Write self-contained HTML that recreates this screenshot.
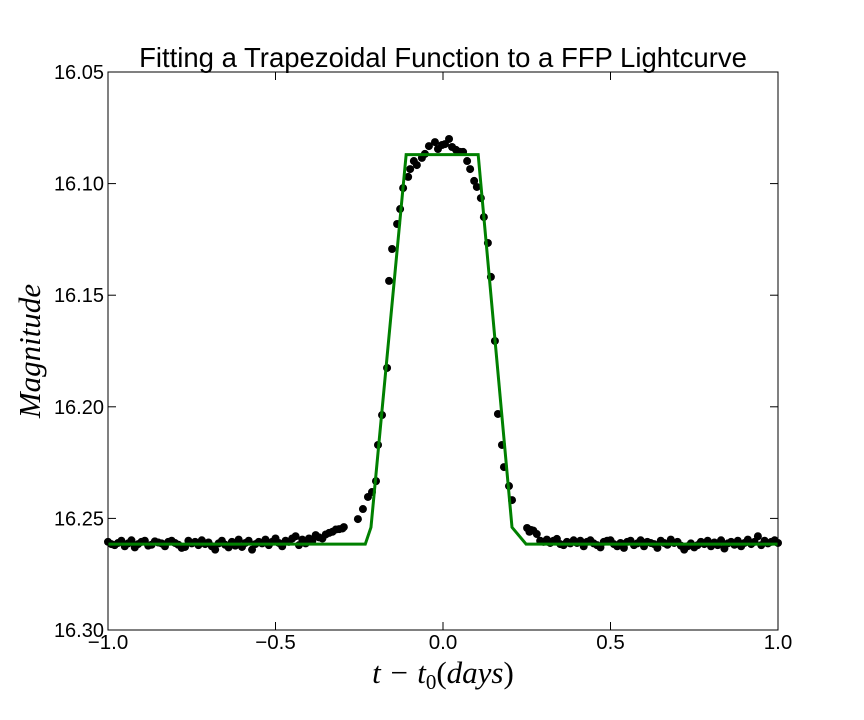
<!DOCTYPE html>
<html><head><meta charset="utf-8"><style>
body{margin:0;background:#fff;}
svg{display:block;font-family:"Liberation Sans",sans-serif;}
</style></head><body>
<svg id="chart" width="864" height="720">
<rect x="0" y="0" width="864" height="720" fill="#fff"/>
<text x="443" y="67" text-anchor="middle" font-size="27.5">Fitting a Trapezoidal Function to a FFP Lightcurve</text>
<g id="plot"></g>
<rect x="108" y="72" width="670" height="558" fill="none" stroke="#000" stroke-width="1"/>
<g id="ticks"></g>
<text x="443" y="683" text-anchor="middle" font-size="31" font-family="'Liberation Serif',serif" font-style="italic">t − t<tspan font-size="21" dy="6" font-style="normal">0</tspan><tspan dy="-6" font-style="normal">(</tspan>days<tspan font-style="normal">)</tspan></text>
<text transform="translate(40,351) rotate(-90)" text-anchor="middle" font-size="31" font-family="'Liberation Serif',serif" font-style="italic">Magnitude</text>
</svg>
<script>
const xTicks=[-1.0,-0.5,0.0,0.5,1.0];
const xTickLabels=["−1.0","−0.5","0.0","0.5","1.0"];
const yTicks=[16.05,16.10,16.15,16.20,16.25,16.30];
const yTickLabels=["16.05","16.10","16.15","16.20","16.25","16.30"];
const leftBase=[16.2605,16.2615,16.2620,16.2610,16.2600,16.2625,16.2612,16.2598,16.2630,16.2615,
16.2605,16.2600,16.2622,16.2618,16.2603,16.2608,16.2612,16.2625,16.2605,16.2600,
16.2610,16.2618,16.2632,16.2628,16.2600,16.2612,16.2605,16.2620,16.2598,16.2615,
16.2608,16.2625,16.2640,16.2612,16.2600,16.2618,16.2630,16.2605,16.2622,16.2595,
16.2628,16.2610,16.2600,16.2640,16.2615,16.2605,16.2612,16.2595,16.2620,16.2605,
16.2590,16.2610,16.2625,16.2600,16.2605,16.2590,16.2580,16.2620,16.2595,16.2612,
16.2590,16.2600,16.2575,16.2585,16.2590,16.2572,16.2565,16.2560,16.2550,16.2548,16.2545];
const peakX=[-0.296,-0.254,-0.239,-0.224,-0.212,-0.2,-0.194,-0.182,-0.167,-0.161,-0.152,-0.137,-0.128,-0.119,-0.104,-0.098,-0.087,-0.078,-0.063,-0.054,-0.042,-0.024,-0.015,-0.003,0.006,0.018,0.027,0.039,0.051,0.06,0.072,0.081,0.093,0.101,0.113,0.122,0.134,0.143,0.155,0.164,0.176,0.182,0.197,0.206,0.251,0.258,0.263];
const peakY=[16.2539,16.2503,16.2458,16.2404,16.2382,16.2333,16.2171,16.2037,16.1826,16.1436,16.1293,16.1181,16.1114,16.102,16.097,16.0935,16.0899,16.0917,16.0885,16.0867,16.0832,16.0814,16.0845,16.0827,16.0823,16.0800,16.0836,16.0849,16.0858,16.0858,16.0899,16.0935,16.0988,16.1015,16.1065,16.1150,16.1266,16.1418,16.1705,16.2032,16.2171,16.2270,16.2355,16.2418,16.2543,16.2560,16.2552];
const rightBase=[16.2555,16.2570,16.2600,16.2605,16.2595,16.2610,16.2600,16.2592,16.2615,16.2620,
16.2605,16.2612,16.2598,16.2610,16.2600,16.2625,16.2605,16.2598,16.2612,16.2620,
16.2630,16.2605,16.2600,16.2598,16.2615,16.2625,16.2610,16.2632,16.2605,16.2600,
16.2620,16.2612,16.2598,16.2625,16.2605,16.2610,16.2615,16.2632,16.2600,16.2610,
16.2618,16.2595,16.2610,16.2605,16.2622,16.2640,16.2625,16.2612,16.2630,16.2620,
16.2605,16.2615,16.2600,16.2625,16.2608,16.2620,16.2598,16.2635,16.2612,16.2605,
16.2618,16.2600,16.2625,16.2610,16.2595,16.2615,16.2605,16.2580,16.2620,16.2600,
16.2612,16.2605,16.2598,16.2610];
const modelX=[-1.0,-0.232,-0.215,-0.11,0.105,0.206,0.248,1.0];
const modelY=[16.2615,16.2615,16.2540,16.0870,16.0870,16.2540,16.2615,16.2615];

const NS="http://www.w3.org/2000/svg";
const X0=108,X1=778,Y0=72,Y1=630;
const sx=v=>X0+(v+1)/2*(X1-X0);
const sy=v=>Y0+(v-16.05)/0.25*(Y1-Y0);
const plot=document.getElementById('plot'),ticks=document.getElementById('ticks');
function mk(t,a,p){const e=document.createElementNS(NS,t);for(const k in a)e.setAttribute(k,a[k]);p.appendChild(e);return e;}
const xs=[],ys=[];
leftBase.forEach((v,i)=>{xs.push(-1+i*0.01);ys.push(v);});
peakX.forEach((v,i)=>{xs.push(v);ys.push(peakY[i]);});
rightBase.forEach((v,i)=>{xs.push(0.27+i*0.01);ys.push(v);});
xs.forEach((x,i)=>{
 const c=mk('circle',{cx:sx(x),cy:sy(ys[i]),r:4,fill:'#000'},plot);
 
 
});
const pl=mk('polyline',{points:modelX.map((x,i)=>sx(x)+','+sy(modelY[i])).join(' '),fill:'none',stroke:'#008000','stroke-width':3},plot);


xTicks.forEach((v,i)=>{
 const x=sx(v);
 mk('line',{x1:x,x2:x,y1:Y1,y2:Y1-8,stroke:'#000'},ticks);
 mk('line',{x1:x,x2:x,y1:Y0,y2:Y0+8,stroke:'#000'},ticks);
 const t=mk('text',{x:x,y:Y1+19,'text-anchor':'middle','font-size':20.5},ticks);
 t.textContent=xTickLabels[i];
 
 
});
yTicks.forEach((v,i)=>{
 const y=sy(v);
 mk('line',{x1:X0,x2:X0+8,y1:y,y2:y,stroke:'#000'},ticks);
 mk('line',{x1:X1,x2:X1-8,y1:y,y2:y,stroke:'#000'},ticks);
 const t=mk('text',{x:X0-4,y:y+7,'text-anchor':'end','font-size':20},ticks);
 t.textContent=yTickLabels[i];
 
 
});
</script>
</body></html>
